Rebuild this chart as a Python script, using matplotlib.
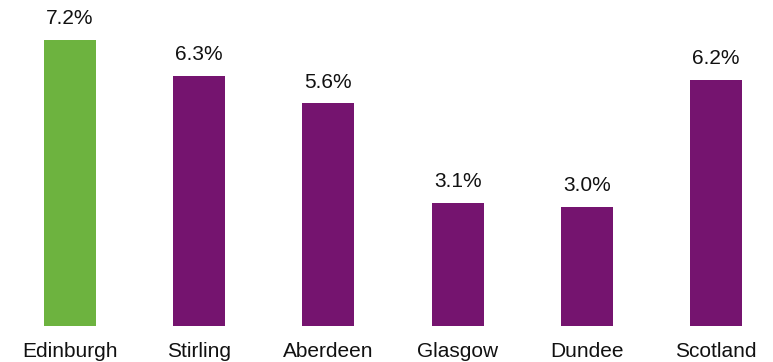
import matplotlib.pyplot as plt

plt.rcParams["font.family"] = ["Liberation Sans", "DejaVu Sans"]

# data
regions = ["Edinburgh", "Stirling", "Aberdeen", "Glasgow", "Dundee", "Scotland"]
values = [7.2, 6.3, 5.6, 3.1, 3.0, 6.2]
bar_colors = ["#6DB33F", "#75146F", "#75146F", "#75146F", "#75146F", "#75146F"]

fig = plt.figure(figsize=(7.73, 3.62), dpi=100)
ax = fig.add_axes([0, 0.1003, 1, 0.8997])

x = list(range(len(regions)))
bars = ax.bar(x, values, width=0.4025, color=bar_colors)

# value labels above bars
for xi, v in zip(x, values):
    ax.annotate(f"{v:.1f}%", xy=(xi, v), xytext=(0, 11.5), textcoords="offset points",
                ha="center", va="baseline", fontsize=15, color="#111111")

# category labels under baseline
for xi, name in zip(x, regions):
    ax.annotate(name, xy=(xi, 0), xytext=(0, -22.5), textcoords="offset points",
                ha="center", va="baseline", fontsize=15, color="#111111",
                annotation_clip=False)

ax.set_xlim(-0.542, 5.441)
ax.set_ylim(0, 8.208)
ax.axis("off")

fig.savefig("out.png", dpi=100)
